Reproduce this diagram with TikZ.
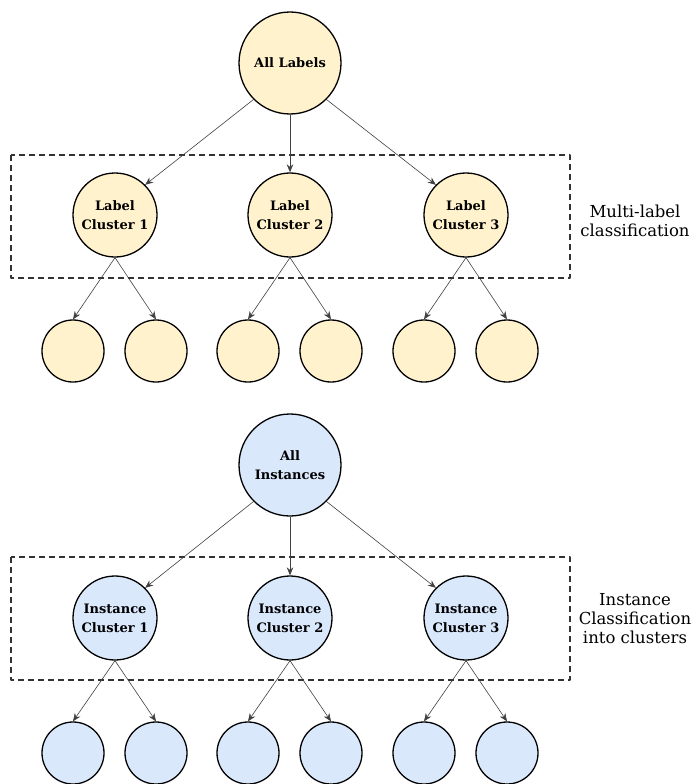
\documentclass[tikz,border=0pt]{standalone}
\usepackage{fontspec}
\setmainfont{DejaVu Serif}
\usetikzlibrary{arrows.meta}
\definecolor{yel}{HTML}{FFF2CC}
\definecolor{blu}{HTML}{DAE8FC}
\tikzset{
	big/.style={circle,draw,line width=1.3pt,minimum size=102pt,inner sep=0pt,align=center,font=\bfseries\fontsize{13}{19}\selectfont},
	mid/.style={big,minimum size=84pt},
	leaf/.style={circle,draw,line width=1.3pt,minimum size=62pt,inner sep=0pt},
	grp/.style={draw=black!80,line width=1.3pt,dash pattern=on 6pt off 4pt},
	con/.style={->,draw=black!75,line width=0.6pt},
	note/.style={align=center,font=\fontsize{16.5}{19}\selectfont}
}
\begin{document}
\begin{tikzpicture}[x=1pt,y=-1pt,line join=round,>={Stealth[length=8pt,width=6.5pt]}]
	\useasboundingbox (0,0) rectangle (691,784);
	% upper tree: labels
	\draw[grp] (11,155) rectangle (570,278);
	\node[big,fill=yel] (L) at (290,63) {All Labels};
	\foreach \i/\x in {1/115,2/290,3/466}{
		\node[mid,fill=yel] (L\i) at (\x,215) {Label\\Cluster \i};
		\node[leaf,fill=yel] (L\i a) at (\x-42,351) {};
		\node[leaf,fill=yel] (L\i b) at (\x+41,351) {};
		\draw[con] (L\i.south) -- (L\i a.north);
		\draw[con] (L\i.south) -- (L\i b.north);
	}
	\draw[con] (L.south west) -- (L1.north east);
	\draw[con] (L.south) -- (L2.north);
	\draw[con] (L.south east) -- (L3.north west);
	\node[note] (tL) at (635,221) {Multi-label\\classification};
	% lower tree: instances
	\draw[grp] (11,557) rectangle (570,680);
	\node[big,fill=blu] (I) at (290,465) {All\\Instances};
	\foreach \i/\x in {1/115,2/290,3/466}{
		\node[mid,fill=blu] (I\i) at (\x,618) {Instance\\Cluster \i};
		\node[leaf,fill=blu] (I\i a) at (\x-42,753) {};
		\node[leaf,fill=blu] (I\i b) at (\x+41,753) {};
		\draw[con] (I\i.south) -- (I\i a.north);
		\draw[con] (I\i.south) -- (I\i b.north);
	}
	\draw[con] (I.south west) -- (I1.north east);
	\draw[con] (I.south) -- (I2.north);
	\draw[con] (I.south east) -- (I3.north west);
	\node[note] (tI) at (635,619) {Instance\\Classification\\into clusters};
\end{tikzpicture}
\end{document}
